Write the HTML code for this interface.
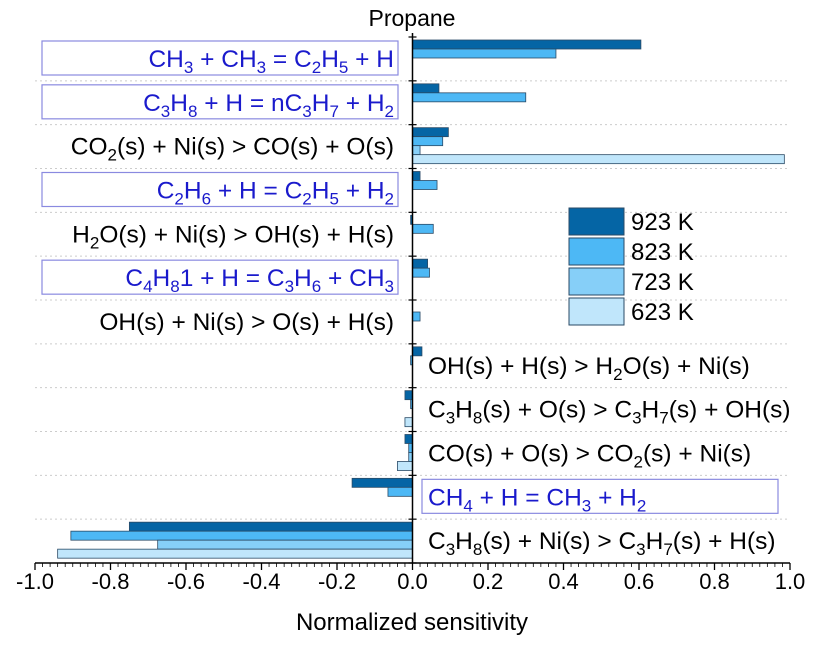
<!DOCTYPE html>
<html><head><meta charset="utf-8"><style>
body{margin:0;background:#fff}
svg text{font-family:"Liberation Sans",sans-serif}
</style></head><body>
<svg id="c" width="813" height="645" xmlns="http://www.w3.org/2000/svg">
<text x="412" y="26" font-size="23" text-anchor="middle">Propane</text>
<g id="grid"></g><g id="bars"></g><g id="labels"></g><g id="axis"></g>
<text x="412" y="630" font-size="24" text-anchor="middle">Normalized sensitivity</text>
<g id="legend"></g>
</svg>
<script>
const reactions=[
 ['CH<tspan dy="6" font-size="17">3</tspan><tspan dy="-6"> + CH</tspan><tspan dy="6" font-size="17">3</tspan><tspan dy="-6"> = C</tspan><tspan dy="6" font-size="17">2</tspan><tspan dy="-6">H</tspan><tspan dy="6" font-size="17">5</tspan><tspan dy="-6"> + H</tspan>',1],
 ['C<tspan dy="6" font-size="17">3</tspan><tspan dy="-6">H</tspan><tspan dy="6" font-size="17">8</tspan><tspan dy="-6"> + H = nC</tspan><tspan dy="6" font-size="17">3</tspan><tspan dy="-6">H</tspan><tspan dy="6" font-size="17">7</tspan><tspan dy="-6"> + H</tspan><tspan dy="6" font-size="17">2</tspan>',1],
 ['CO<tspan dy="6" font-size="17">2</tspan><tspan dy="-6">(s) + Ni(s) &gt; CO(s) + O(s)</tspan>',0],
 ['C<tspan dy="6" font-size="17">2</tspan><tspan dy="-6">H</tspan><tspan dy="6" font-size="17">6</tspan><tspan dy="-6"> + H = C</tspan><tspan dy="6" font-size="17">2</tspan><tspan dy="-6">H</tspan><tspan dy="6" font-size="17">5</tspan><tspan dy="-6"> + H</tspan><tspan dy="6" font-size="17">2</tspan>',1],
 ['H<tspan dy="6" font-size="17">2</tspan><tspan dy="-6">O(s) + Ni(s) &gt; OH(s) + H(s)</tspan>',0],
 ['C<tspan dy="6" font-size="17">4</tspan><tspan dy="-6">H</tspan><tspan dy="6" font-size="17">8</tspan><tspan dy="-6">1 + H = C</tspan><tspan dy="6" font-size="17">3</tspan><tspan dy="-6">H</tspan><tspan dy="6" font-size="17">6</tspan><tspan dy="-6"> + CH</tspan><tspan dy="6" font-size="17">3</tspan>',1],
 ['OH(s) + Ni(s) &gt; O(s) + H(s)',0],
 ['OH(s) + H(s) &gt; H<tspan dy="6" font-size="17">2</tspan><tspan dy="-6">O(s) + Ni(s)</tspan>',0],
 ['C<tspan dy="6" font-size="17">3</tspan><tspan dy="-6">H</tspan><tspan dy="6" font-size="17">8</tspan><tspan dy="-6">(s) + O(s) &gt; C</tspan><tspan dy="6" font-size="17">3</tspan><tspan dy="-6">H</tspan><tspan dy="6" font-size="17">7</tspan><tspan dy="-6">(s) + OH(s)</tspan>',0],
 ['CO(s) + O(s) &gt; CO<tspan dy="6" font-size="17">2</tspan><tspan dy="-6">(s) + Ni(s)</tspan>',0],
 ['CH<tspan dy="6" font-size="17">4</tspan><tspan dy="-6"> + H = CH</tspan><tspan dy="6" font-size="17">3</tspan><tspan dy="-6"> + H</tspan><tspan dy="6" font-size="17">2</tspan>',1],
 ['C<tspan dy="6" font-size="17">3</tspan><tspan dy="-6">H</tspan><tspan dy="6" font-size="17">8</tspan><tspan dy="-6">(s) + Ni(s) &gt; C</tspan><tspan dy="6" font-size="17">3</tspan><tspan dy="-6">H</tspan><tspan dy="6" font-size="17">7</tspan><tspan dy="-6">(s) + H(s)</tspan>',0]
];
const seriesNames=['923 K','823 K','723 K','623 K'];
const s923=[0.605,0.07,0.095,0.02,-0.005,0.04,0,0.025,-0.02,-0.02,-0.16,-0.75];
const s823=[0.38,0.30,0.08,0.065,0.055,0.045,0.02,-0.005,-0.005,-0.01,-0.065,-0.905];
const s723=[0,0,0.02,0,0,0,0,0,0,-0.01,0,-0.675];
const s623=[0,0,0.985,0,0,0,0,0,-0.02,-0.04,0,-0.94];
const xTicks=['-1.0','-0.8','-0.6','-0.4','-0.2','0.0','0.2','0.4','0.6','0.8','1.0'];
const colors=['#0565a5','#4db8f5','#86cff8','#c0e6fb'];
const NS='http://www.w3.org/2000/svg';
const X0=35,X1=790,Y0=37,Y1=563,RH=(Y1-Y0)/12;
const xs=v=>X0+(v+1)/2*(X1-X0);
function mk(tag,attrs,parent){const e=document.createElementNS(NS,tag);for(const k in attrs)e.setAttribute(k,attrs[k]);document.getElementById(parent).appendChild(e);return e;}
const series=[s923,s823,s723,s623];
for(let i=0;i<12;i++){
 const top=Y0+i*RH;
 if(i>0){const g=mk('line',{x1:X0,x2:X1,y1:top,y2:top,stroke:'#ccc','stroke-dasharray':'2 3'},'grid');
 
 }
 series.forEach((s,j)=>{const v=s[i];if(v===0)return;
  const a=xs(0),b=xs(v);
  const r=mk('rect',{x:Math.min(a,b),y:top+3+j*9,width:Math.abs(b-a),height:9,fill:colors[j],stroke:'#2a4a66','stroke-width':0.8},'bars');
  
  
 });
 const [txt,boxed]=reactions[i];
 const right=i>=7;
 const cy=top+RH/2+8;
 const t=mk('text',{'font-size':24.5,fill:boxed?'#1a1acc':'#000','text-anchor':right?'start':'end',x:right?428:394,y:cy},'labels');
 t.innerHTML=txt;
 
 
 if(boxed){
  let bx=right?422:42,bw=right?778-422:398-42;
  const r=mk('rect',{x:bx,y:top+4,width:bw,height:34,fill:'none',stroke:'#8a8ae0','stroke-width':1.2},'labels');
  
  }
}
let l=mk('line',{x1:X0,x2:X1,y1:Y1,y2:Y1,stroke:'#000','stroke-width':1.5},'axis');


l=mk('line',{x1:xs(0),x2:xs(0),y1:Y0-4,y2:Y1,stroke:'#000','stroke-width':1.5},'axis');


for(let i=0;i<=12;i++){const y=Y0+i*RH;mk('line',{x1:xs(0)-4,x2:xs(0)+4,y1:y,y2:y,stroke:'#000','stroke-width':1.2},'axis');}
for(let k=0;k<=100;k++){const v=-1+k*0.02;const major=k%10===0;
 mk('line',{x1:xs(v),x2:xs(v),y1:Y1,y2:Y1+(major?7:4),stroke:'#000','stroke-width':major?1.3:0.8},'axis');}
xTicks.forEach(s=>{const t=mk('text',{x:xs(parseFloat(s)),y:589,'font-size':22,'text-anchor':'middle'},'axis');t.textContent=s;
 
 });
seriesNames.forEach((n,j)=>{const y=208+j*30;
 const r=mk('rect',{x:569,y:y,width:55,height:27,fill:colors[j],stroke:'#2a4a66','stroke-width':1},'legend');
 
 
 const t=mk('text',{x:631,y:y+22,'font-size':24},'legend');t.textContent=n;
 
 });
</script>
</body></html>
